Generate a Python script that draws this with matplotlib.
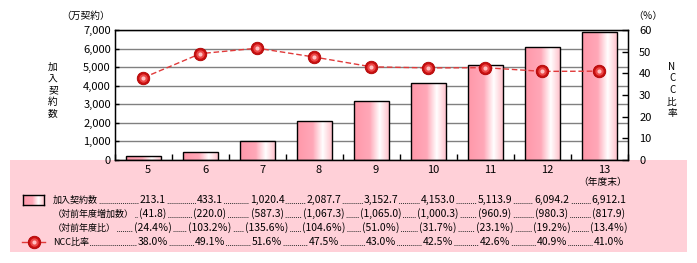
import matplotlib
matplotlib.use('Agg')
import matplotlib.pyplot as plt
import numpy as np
from matplotlib.lines import Line2D
from matplotlib.patches import Rectangle
from matplotlib.colors import LinearSegmentedColormap

plt.rcParams['font.family'] = ['Noto Sans CJK JP', 'DejaVu Sans']

# data
years = ['5', '6', '7', '8', '9', '10', '11', '12', '13']
subscribers = [213.1, 433.1, 1020.4, 2087.7, 3152.7, 4153.0, 5113.9, 6094.2, 6912.1]
increase = [41.8, 220.0, 587.3, 1067.3, 1065.0, 1000.3, 960.9, 980.3, 817.9]
yoy_ratio = [24.4, 103.2, 135.6, 104.6, 51.0, 31.7, 23.1, 19.2, 13.4]
ncc_ratio = [38.0, 49.1, 51.6, 47.5, 43.0, 42.5, 42.6, 40.9, 41.0]

W, H = 697, 263
PINK = '#ffd0d8'
LINE_RED = '#e03a3a'

def fx(px):
    return px / W

def fy(py):
    return 1 - py / H

fig = plt.figure(figsize=(W / 100, H / 100), dpi=100, facecolor='white')

# pink table band
fig.patches.append(Rectangle((fx(10), fy(252)), fx(677), 92 / H, transform=fig.transFigure,
                             facecolor=PINK, edgecolor='none', zorder=-5))

ax = fig.add_axes([fx(115), fy(160), fx(513), 130 / H])
ax.set_zorder(1)

bar_cmap = LinearSegmentedColormap.from_list('barpink', [
    (0.0, '#ff98aa'), (0.45, '#ffa8b8'), (0.74, '#ffffff'), (1.0, '#ffc4ce')])
grad = np.linspace(0, 1, 64).reshape(1, -1)

n = len(years)
x = np.arange(n)
bars = ax.bar(x, subscribers, width=0.6, facecolor='none', edgecolor='black', linewidth=1, zorder=3)
for b in bars:
    im = ax.imshow(grad, cmap=bar_cmap, aspect='auto', zorder=2,
                   extent=[b.get_x(), b.get_x() + b.get_width(), 0, b.get_height()])
    im.set_clip_path(b)

ax.set_xlim(-0.5, n - 0.5)
ax.set_ylim(0, 7000)
ax.set_yticks(range(0, 7001, 1000))
ax.set_yticklabels(['{:,}'.format(v) for v in range(0, 7001, 1000)], fontsize=8)
ax.yaxis.grid(True, color='#808080', linewidth=1)
ax.set_axisbelow(True)
ax.set_xticks(np.arange(-0.5, n, 1.0))
ax.set_xticklabels([])
ax.tick_params(axis='x', direction='in', length=4, width=1)
ax.tick_params(axis='y', direction='in', length=3, width=1, pad=3)
for s in ax.spines.values():
    s.set_linewidth(1)

for i, lab in enumerate(years):
    ax.text(i + 0.08, -0.075, lab, transform=ax.get_xaxis_transform(),
            ha='center', va='center', fontsize=8)
ax.text(n - 1 + 0.05, -0.17, '（年度末）', transform=ax.get_xaxis_transform(),
        ha='center', va='center', fontsize=7)

ax2 = ax.twinx()
ax2.set_ylim(0, 60)
ax2.set_yticks(range(0, 61, 10))
ax2.set_yticklabels([str(v) for v in range(0, 61, 10)], fontsize=8)
ax2.tick_params(axis='y', direction='in', length=4, width=1, pad=8)
ax2.plot(x, ncc_ratio, color=LINE_RED, linewidth=1, linestyle=(0, (4, 2)), zorder=4)
ax2.plot(x, ncc_ratio, 'o', ms=9, mfc='#c81010', mec='#b00000', mew=0.6, zorder=5)
ax2.plot(x, ncc_ratio, 'o', ms=6, mfc='#ec4848', mec='none', zorder=6)
ax2.plot(x, ncc_ratio, 'o', ms=3, mfc='#ffc0c0', mec='none', zorder=7)

# axis titles
fig.text(fx(86), fy(16), '（万契約）', ha='center', va='center', fontsize=7)
fig.text(fx(648), fy(16), '（％）', ha='center', va='center', fontsize=7)
fig.text(fx(53), fy(90), '加\n入\n契\n約\n数', ha='center', va='center', fontsize=7, linespacing=1.2)
fig.text(fx(672), fy(90), 'N\nC\nC\n比\n率', ha='center', va='center', fontsize=7, linespacing=1.2)

# table rows
rows = [
    ('加入契約数', ['{:,.1f}'.format(v) for v in subscribers], 200),
    ('（対前年度増加数）', ['({:,.1f})'.format(v) for v in increase], 214),
    ('（対前年度比）', ['({:.1f}％)'.format(v) for v in yoy_ratio], 228),
    ('NCC比率', ['{:.1f}％'.format(v) for v in ncc_ratio], 242),
]
centers = [115 + 513 / n * (i + 0.5) + 9.5 for i in range(n)]
box = dict(boxstyle='square,pad=0.1', facecolor=PINK, edgecolor='none')
for label, vals, py in rows:
    fig.add_artist(Line2D([fx(70), fx(centers[-1])], [fy(py + 3), fy(py + 3)], transform=fig.transFigure,
                          color='#333333', linewidth=0.7, linestyle=(0, (1, 1)), zorder=2))
    fig.text(fx(53), fy(py), label, ha='left', va='center', fontsize=6.5, bbox=box, zorder=3)
    for cx, v in zip(centers, vals):
        fig.text(fx(cx), fy(py), v, ha='center', va='center', fontsize=7.5, bbox=box, zorder=3)

# legend icons
iax = fig.add_axes([fx(23), fy(205), fx(21), 10 / H])
iax.imshow(grad, cmap=bar_cmap, aspect='auto', extent=[0, 1, 0, 1])
iax.set_xticks([])
iax.set_yticks([])
for s in iax.spines.values():
    s.set_linewidth(1)
fig.add_artist(Line2D([fx(22), fx(45)], [fy(242), fy(242)], transform=fig.transFigure,
                      color=LINE_RED, linewidth=1, zorder=4))
for ms, fc in [(9, '#c81010'), (6, '#ec4848'), (3, '#ffc0c0')]:
    fig.add_artist(Line2D([fx(33.5)], [fy(242)], transform=fig.transFigure, marker='o', ms=ms,
                          mfc=fc, mec='#b00000' if ms == 9 else 'none', mew=0.6, zorder=5))

fig.savefig('out.png', dpi=100)
